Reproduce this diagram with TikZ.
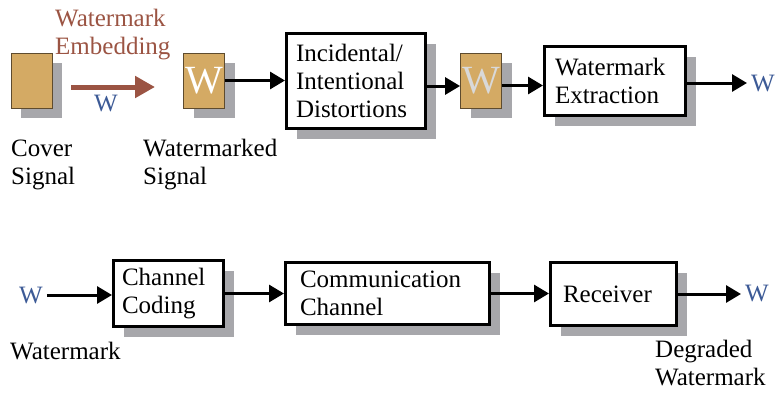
\documentclass[tikz,border=0pt]{standalone}
\usepackage{fontspec}
\setmainfont{Liberation Serif}
\usetikzlibrary{arrows.meta,shadows,positioning}
\definecolor{signaltan}{HTML}{D4AA64}
\definecolor{signaledge}{HTML}{5E4B2E}
\definecolor{shadowgray}{HTML}{A7A7AB}
\definecolor{embedbrown}{HTML}{9B5443}
\definecolor{markblue}{HTML}{3C5A96}
\definecolor{markgray}{HTML}{D9D9D9}

\begin{document}
\begin{tikzpicture}[x=1pt,y=-1pt,
    every node/.style={font=\fontsize{25}{28}\selectfont},
    boxshadow/.style={general shadow={fill=shadowgray,shadow xshift=10pt,shadow yshift=-10pt}},
    block/.style={draw,line width=3pt,fill=white,boxshadow,align=left,inner sep=0pt},
    signal/.style={draw=signaledge,line width=0.8pt,fill=signaltan,boxshadow,
                   minimum width=41pt,minimum height=55pt,inner sep=0pt,
                   font=\fontsize{40}{40}\selectfont},
    flow/.style={line width=3pt,-{Triangle[length=15pt,width=17pt]}},
    wmark/.style={text=markblue,inner sep=4pt},
    caption/.style={align=left,inner sep=0pt,anchor=west}]

\useasboundingbox (0,0) rectangle (777,392);

% embedding and the attacked channel
\node[signal] (cover) at (31.5,80.5) {};
\node[signal,text=white] (wone) at (204,80.5) {W};
\node[block,minimum width=139pt,minimum height=95pt,text width=120pt] (dist) at (356,81)
    {Incidental/\\Intentional\\Distortions};
\node[signal,text=markgray] (wtwo) at (481,80.5) {W};
\node[block,minimum width=141pt,minimum height=69pt,text width=120pt] (extr) at (615,81)
    {Watermark\\Extraction};
\node[wmark] (wext) at (763,83) {W};

\coordinate (embstart) at (71,87);
\coordinate (embend) at (155,87);
\draw[embedbrown,line width=5pt,-{Triangle[length=20pt,width=21pt]}] (embstart) -- (embend);
\node[text=markblue] (wemb) at (106,103) {W};
\node[caption,text=embedbrown] (embtext) at (55,34.5) {Watermark\\Embedding};
\node[caption] (covertext) at (11,165) {Cover\\Signal};
\node[caption] (wmtext) at (143,165) {Watermarked\\Signal};

\draw[flow] (wone.east) -- (wone.east -| dist.west);
\draw[flow] ([yshift=-5pt]dist.east) -- ([yshift=-5pt]dist.east -| wtwo.west);
\draw[flow] ([yshift=-5pt]wtwo.east) -- ([yshift=-5pt]wtwo.east -| extr.west);
\draw[flow] ([yshift=-2pt]extr.east) -- ([yshift=-2pt]extr.east -| wext.west);

% the same thing seen as a communication system
\node[wmark] (win) at (31,295) {W};
\node[block,minimum width=110pt,minimum height=66pt,text width=93pt] (coding) at (168.5,293.5)
    {Channel\\Coding};
\node[block,minimum width=204pt,minimum height=62pt,text width=175pt] (comm) at (387.5,293.5)
    {Communication\\Channel};
\node[block,minimum width=126pt,minimum height=63pt,text width=101pt] (recv) at (613.5,294)
    {Receiver};
\node[wmark] (wout) at (757,293) {W};
\node[caption,anchor=base west] (wintext) at (10,359) {Watermark};
\node[caption] (wouttext) at (655,363) {Degraded\\Watermark};

\draw[flow] (win.east) -- (win.east -| coding.west);
\draw[flow] (coding.east) -- (coding.east -| comm.west);
\draw[flow] (comm.east) -- (comm.east -| recv.west);
\draw[flow] (recv.east) -- (recv.east -| wout.west);
\end{tikzpicture}
\end{document}
